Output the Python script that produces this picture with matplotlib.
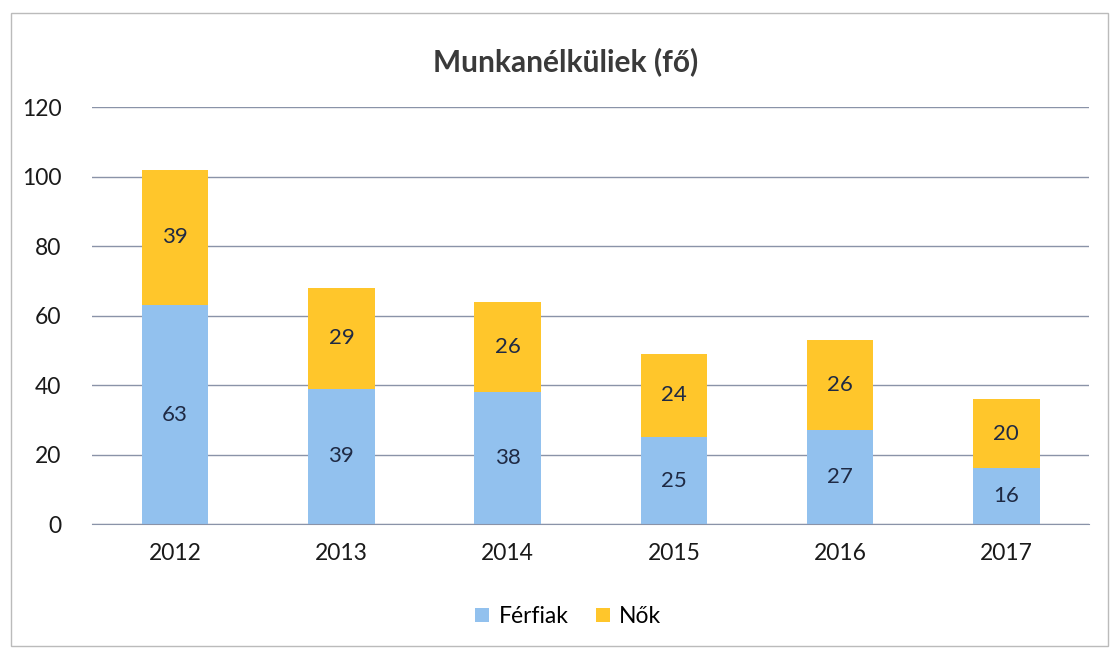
import matplotlib.pyplot as plt
import numpy as np

# adatok
evek = ["2012", "2013", "2014", "2015", "2016", "2017"]
ferfiak = [63, 39, 38, 25, 27, 16]
nok = [39, 29, 26, 24, 26, 20]

plt.rcParams['font.family'] = ['Lato', 'DejaVu Sans']

fig = plt.figure(figsize=(11.14, 6.49), dpi=100)
ax = fig.add_axes([0.0826, 0.1926, 0.8954, 0.6424])

x = np.arange(len(evek))
kek = "#92C1EE"
sarga = "#FFC62B"
b1 = ax.bar(x, ferfiak, width=0.4, color=kek, label="Férfiak", zorder=2)
b2 = ax.bar(x, nok, width=0.4, bottom=ferfiak, color=sarga, label="Nők", zorder=2)

for i in range(len(evek)):
    ax.text(x[i], ferfiak[i] / 2, str(ferfiak[i]), ha="center", va="center",
            fontsize=16, color="#1F2A44", zorder=3)
    ax.text(x[i], ferfiak[i] + nok[i] / 2, str(nok[i]), ha="center", va="center",
            fontsize=16, color="#1F2A44", zorder=3)

ax.set_xlim(-0.5, 5.5)
ax.set_ylim(0, 120)
ax.set_yticks(range(0, 121, 20))
ax.set_xticks(x)
ax.set_xticklabels(evek)
ax.tick_params(axis="both", length=0, labelsize=16.5, colors="#1A1A1A")
ax.tick_params(axis="x", pad=14)
ax.tick_params(axis="y", pad=22)
ax.yaxis.grid(True, color="#8A93A8", linewidth=1, zorder=0)
for s in ["top", "right", "left"]:
    ax.spines[s].set_visible(False)
ax.spines["bottom"].set_color("#8A93A8")

fig.text(0.508, 0.905, "Munkanélküliek (fő)", ha="center", va="center",
         fontsize=21.5, fontweight="bold", color="#3A3A3A")

fig.legend(handles=[b1, b2], loc="center", bbox_to_anchor=(0.51, 0.05), ncol=2,
           frameon=False, fontsize=16.5, handlelength=0.6, handleheight=0.6,
           handletextpad=0.4, columnspacing=1.2)

# keret
fig.patches.append(plt.Rectangle((0.01, 0.005), 0.985, 0.975, transform=fig.transFigure,
                                 fill=False, edgecolor="#BBBBBB", linewidth=1))

fig.savefig("out.png", dpi=100)
